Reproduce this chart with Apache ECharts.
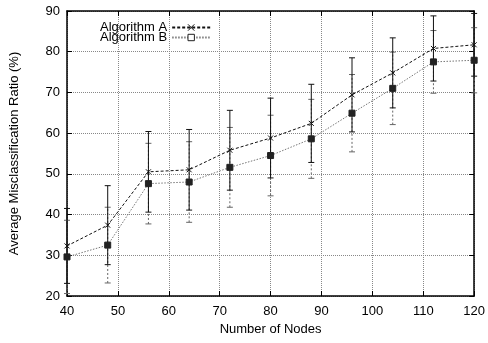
<!DOCTYPE html>
<html>
<head>
<meta charset="utf-8">
<script src="https://cdn.jsdelivr.net/npm/echarts@6/dist/echarts.min.js"></script>
<style>
html,body{margin:0;padding:0;background:#fff;}
#chart{width:488px;height:343px;}
</style>
</head>
<body>
<div id="chart"></div>
<script>
var nodes = [40, 48, 56, 64, 72, 80, 88, 96, 104, 112, 120];
var algA = [32.3, 37.4, 50.5, 51.0, 55.8, 58.8, 62.4, 69.4, 74.8, 80.8, 81.7];
var algAErr = [9.2, 9.7, 9.9, 9.9, 9.8, 9.8, 9.6, 9.1, 8.6, 8.0, 7.7];
var algB = [29.6, 32.5, 47.6, 48.0, 51.6, 54.5, 58.6, 64.9, 71.0, 77.5, 77.9];
var algBErr = [9.0, 9.3, 9.9, 9.9, 9.8, 9.9, 9.7, 9.5, 8.9, 7.7, 8.0];
var xTicks = [40, 50, 60, 70, 80, 90, 100, 110, 120];
var yTicks = [20, 30, 40, 50, 60, 70, 80, 90];

var FONT = 'Liberation Sans, Arial, Helvetica, sans-serif';

function pairs(vals) { return nodes.map(function (n, i) { return [n, vals[i]]; }); }
function errData(vals, errs) {
  return nodes.map(function (n, i) { return [n, vals[i] - errs[i], vals[i] + errs[i]]; });
}
function errRender(color, dash) {
  return function (params, api) {
    var x = api.value(0);
    var lo = api.coord([x, api.value(1)]);
    var hi = api.coord([x, api.value(2)]);
    var w = 3;
    var st = { stroke: color, lineWidth: 1, lineDash: dash };
    var cs = { stroke: color, lineWidth: 1 };
    return {
      type: 'group',
      children: [
        { type: 'line', shape: { x1: lo[0], y1: lo[1], x2: hi[0], y2: hi[1] }, style: st },
        { type: 'line', shape: { x1: lo[0] - w, y1: lo[1], x2: lo[0] + w, y2: lo[1] }, style: cs },
        { type: 'line', shape: { x1: hi[0] - w, y1: hi[1], x2: hi[0] + w, y2: hi[1] }, style: cs }
      ]
    };
  };
}

var chart = echarts.init(document.getElementById('chart'), null, { renderer: 'canvas' });
var axisLabelStyle = { color: '#000', fontFamily: FONT, fontSize: 13 };
var option = {
  animation: false,
  backgroundColor: '#fff',
  grid: { left: 67, right: 13, top: 11, bottom: 47, show: false },
  legend: {
    orient: 'vertical',
    left: 95,
    top: 16,
    align: 'right',
    itemWidth: 38,
    itemHeight: 8,
    itemGap: -3,
    itemStyle: { borderWidth: 1 },
    textStyle: { color: '#000', fontFamily: FONT, fontSize: 13 },
    data: [
      { name: 'Algorithm A' },
      { name: 'Algorithm B', itemStyle: { color: '#fff', borderColor: '#222', borderWidth: 1 } }
    ]
  },
  xAxis: [{
    type: 'value', min: 40, max: 120, interval: 10,
    name: 'Number of Nodes', nameLocation: 'middle', nameGap: 24,
    nameTextStyle: { color: '#000', fontFamily: FONT, fontSize: 13 },
    axisLine: { show: true, lineStyle: { color: '#000', width: 1.5 } },
    axisTick: { show: true, inside: true, length: 5, lineStyle: { color: '#000' } },
    axisLabel: Object.assign({ margin: 9 }, axisLabelStyle),
    splitLine: { show: true, lineStyle: { color: '#888', type: 'dotted', width: 1 } }
  }, {
    type: 'value', position: 'top', min: 40, max: 120, interval: 10,
    axisLine: { show: true, lineStyle: { color: '#000', width: 1.5 } },
    axisTick: { show: true, inside: true, length: 5, lineStyle: { color: '#000' } },
    axisLabel: { show: false }, splitLine: { show: false }
  }],
  yAxis: [{
    type: 'value', min: 20, max: 90, interval: 10,
    name: 'Average Misclassification Ratio (%)', nameLocation: 'middle', nameGap: 46,
    nameTextStyle: { color: '#000', fontFamily: FONT, fontSize: 13 },
    axisLine: { show: true, lineStyle: { color: '#000', width: 1.5 } },
    axisTick: { show: true, inside: true, length: 5, lineStyle: { color: '#000' } },
    axisLabel: Object.assign({ margin: 7 }, axisLabelStyle),
    splitLine: { show: true, lineStyle: { color: '#888', type: 'dotted', width: 1 } }
  }, {
    type: 'value', position: 'right', min: 20, max: 90, interval: 10,
    axisLine: { show: true, lineStyle: { color: '#000', width: 1.5 } },
    axisTick: { show: true, inside: true, length: 5, lineStyle: { color: '#000' } },
    axisLabel: { show: false }, splitLine: { show: false }
  }],
  series: [
    {
      name: 'errB', type: 'custom', xAxisIndex: 0, yAxisIndex: 0,
      renderItem: errRender('#666', [2, 2]), data: errData(algB, algBErr), z: 2, silent: true
    },
    {
      name: 'errA', type: 'custom', xAxisIndex: 0, yAxisIndex: 0,
      renderItem: errRender('#111', null), data: errData(algA, algAErr), z: 3, silent: true
    },
    {
      name: 'Algorithm B', type: 'line', data: pairs(algB), z: 4,
      symbol: 'rect', symbolSize: 6, showAllSymbol: true,
      lineStyle: { color: '#777', width: 1, type: [1.5, 1.5] },
      itemStyle: { color: '#222', borderColor: '#222', borderWidth: 1 }
    },
    {
      name: 'Algorithm A', type: 'line', data: pairs(algA), z: 5,
      symbol: 'path://M0,0L10,10M10,0L0,10', symbolSize: 5, showAllSymbol: true,
      lineStyle: { color: '#111', width: 1, type: [3, 2] },
      itemStyle: { color: 'rgba(0,0,0,0)', borderColor: '#111', borderWidth: 1 }
    }
  ]
};
chart.setOption(option);
</script>
</body>
</html>
